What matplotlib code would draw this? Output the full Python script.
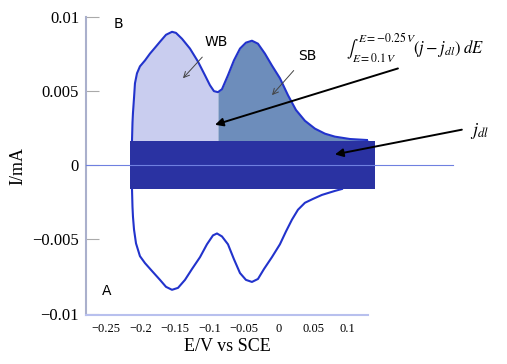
import numpy as np
import matplotlib
matplotlib.use('Agg')
import matplotlib.pyplot as plt
from matplotlib.patches import Rectangle

plt.rcParams['mathtext.fontset'] = 'stix'

# upper (B) branch of the voltammogram
e_up = [-0.2124, -0.2117, -0.2110, -0.2095, -0.2081, -0.2052, -0.2009, -0.1936, -0.1864,
        -0.1791, -0.1719, -0.1632, -0.1545, -0.1488, -0.1400, -0.1285, -0.1170, -0.1068,
        -0.0996, -0.0938, -0.0880, -0.0822, -0.0735, -0.0649, -0.0561, -0.0475, -0.0388,
        -0.0301, -0.0200, -0.0099, 0.0017, 0.0133, 0.0249, 0.0379, 0.0524, 0.0669,
        0.0813, 0.1031, 0.1392]
i_up = [0.00167, 0.00287, 0.00353, 0.00453, 0.00553, 0.0062, 0.00667, 0.00707, 0.00753,
        0.00793, 0.00833, 0.0088, 0.0090, 0.00893, 0.00853, 0.00787, 0.0070, 0.00607,
        0.0054, 0.0050, 0.00493, 0.00513, 0.00607, 0.00707, 0.00787, 0.00827, 0.0084,
        0.0082, 0.00753, 0.00673, 0.00587, 0.00473, 0.00373, 0.0030, 0.00247, 0.00213,
        0.00193, 0.00177, 0.00167]

# lower (A) branch
e_low = [-0.2124, -0.2117, -0.2110, -0.2095, -0.2066, -0.2009, -0.1936, -0.1835, -0.1719,
         -0.1632, -0.1545, -0.1458, -0.1357, -0.1256, -0.1140, -0.1039, -0.0952, -0.0894,
         -0.0822, -0.0735, -0.0649, -0.0561, -0.0475, -0.0388, -0.0301, -0.0214, -0.0099,
         0.0017, 0.0104, 0.0191, 0.0278, 0.0379, 0.0495, 0.0625, 0.0813, 0.0915]
i_low = [-0.0016, -0.0028, -0.00347, -0.00433, -0.00527, -0.00613, -0.0066, -0.00713,
         -0.00773, -0.0082, -0.0084, -0.00827, -0.00773, -0.0070, -0.0062, -0.00533,
         -0.00473, -0.0046, -0.0048, -0.00533, -0.00633, -0.00727, -0.00773, -0.00787,
         -0.00767, -0.0070, -0.0062, -0.00533, -0.00447, -0.00367, -0.0030, -0.00253,
         -0.00227, -0.0020, -0.00173, -0.0016]

# double layer band and WB/SB split
j_dl = 0.00167
band_e = [-0.215, 0.139]
band_low = -0.0016
e_split = -0.088

yticks = [-0.01, -0.005, 0, 0.005, 0.01]
ytick_labels = ['\u22120.01', '\u22120.005', '0', '0.005', '0.01']
xticks = [-0.25, -0.2, -0.15, -0.1, -0.05, 0, 0.05, 0.1]
xtick_labels = ['\u22120.25', '\u22120.2', '\u22120.15', '\u22120.1', '\u22120.05', '0', '0.05', '0.1']

fig = plt.figure(figsize=(5.07, 3.64), dpi=100)
ax = fig.add_axes([0.1696, 0.1346, 0.556, 0.8187])

e_up_a = np.array(e_up)
i_up_a = np.array(i_up)
wb = e_up_a <= e_split + 1e-9
i_split = np.interp(e_split, e_up_a, i_up_a)
e_wb = np.append(e_up_a[wb], e_split)
i_wb = np.append(i_up_a[wb], i_split)
e_sb = np.insert(e_up_a[~wb], 0, e_split)
i_sb = np.insert(i_up_a[~wb], 0, i_split)
ax.fill_between(e_wb, j_dl, i_wb, color='#c9cdef', lw=0, zorder=1)
ax.fill_between(e_sb, j_dl, i_sb, color='#6d8dbb', lw=0, zorder=1)

ax.plot(e_up, i_up, color='#2233cc', lw=1.5, zorder=2)
ax.plot(e_low, i_low, color='#2233cc', lw=1.5, zorder=2)

ax.add_patch(Rectangle((band_e[0], band_low), band_e[1] - band_e[0], j_dl - band_low,
                       color='#2a32a2', lw=0, zorder=3, clip_on=False))
ax.plot([-0.279, 0.252], [0, 0], color='#6f80e0', lw=0.8, zorder=4, clip_on=False)

ax.set_xlim(-0.279, 0.129)
ax.set_ylim(-0.0101, 0.0099)
ax.set_yticks(yticks)
ax.set_yticklabels(ytick_labels, fontsize=12, family='Liberation Serif')
ax.set_xticks(xticks)
ax.set_xticklabels(xtick_labels, fontsize=9, family='Liberation Serif')
ax.tick_params(axis='y', direction='in', length=9, color='#aaaaaa', pad=5)
ax.tick_params(axis='x', length=0, pad=6)
for s in ['top', 'right']:
    ax.spines[s].set_visible(False)
ax.spines['left'].set_color('#aab0cc')
ax.spines['bottom'].set_color('#b8c0ee')
ax.spines['left'].set_linewidth(1.5)
ax.spines['bottom'].set_linewidth(1.5)

ax.set_xlabel('E/V vs SCE', fontsize=13, family='Liberation Serif', labelpad=2)
ax.set_ylabel('I/mA', fontsize=13, family='Liberation Serif', labelpad=4)

ax.text(-0.2327, 0.0095, 'B', fontsize=10, va='center', ha='center')
ax.text(-0.2486, -0.0085, 'A', fontsize=10, va='center', ha='center')
ax.annotate('WB', xy=(-0.1386, 0.00587), xytext=(-0.091, 0.0083), fontsize=10,
            ha='center', va='center',
            arrowprops=dict(arrowstyle='->', color='#444444', lw=0.7, shrinkA=5, shrinkB=0))
ax.annotate('SB', xy=(-0.0098, 0.00473), xytext=(0.0408, 0.0074), fontsize=10,
            ha='center', va='center',
            arrowprops=dict(arrowstyle='->', color='#444444', lw=0.7, shrinkA=5, shrinkB=0))

ax.annotate('', xy=(-0.0923, 0.00273), xytext=(0.1725, 0.00653),
            arrowprops=dict(arrowstyle='-|>', color='black', lw=1.4, mutation_scale=12,
                            shrinkA=0, shrinkB=0))
ax.text(0.098, 0.0079, r'$\int_{E=0.1\,V}^{E=-0.25\,V}(j-j_{dl})\;dE$', fontsize=12,
        ha='left', va='center')
ax.annotate('', xy=(0.0813, 0.00073), xytext=(0.265, 0.0024),
            arrowprops=dict(arrowstyle='-|>', color='black', lw=1.4, mutation_scale=12,
                            shrinkA=0, shrinkB=0))
ax.text(0.277, 0.0023, r'$j_{dl}$', fontsize=13, ha='left', va='center')

fig.savefig('out.png', dpi=100)
